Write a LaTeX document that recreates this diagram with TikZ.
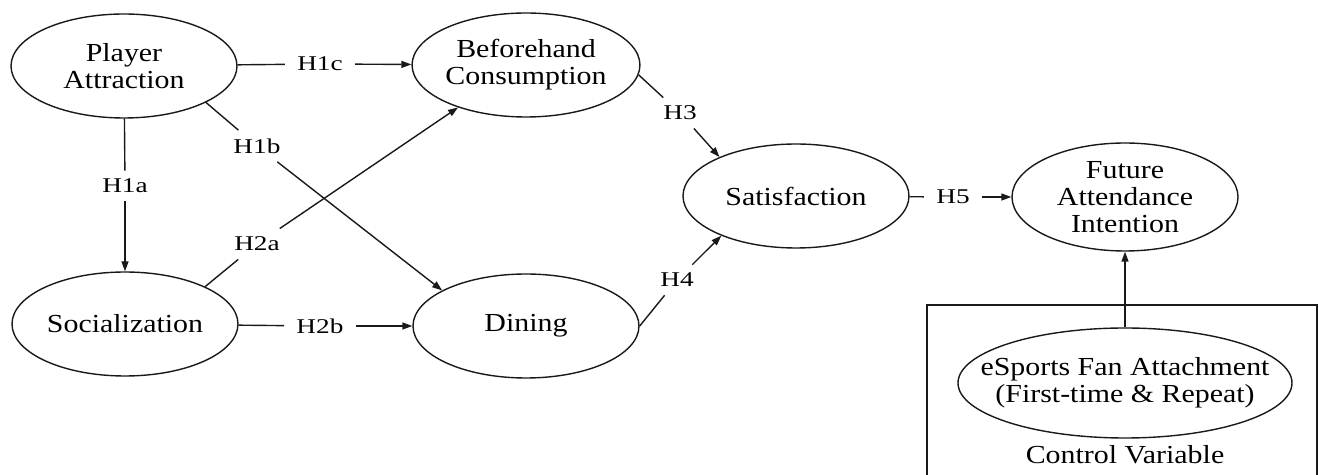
\documentclass[tikz,border=0pt]{standalone}
\usepackage{fontspec}
\setmainfont{Liberation Serif}[FakeStretch=1.15]
\newfontfamily\hypfont{Liberation Serif}[FakeStretch=1.3]
\usetikzlibrary{shapes.geometric, arrows.meta, positioning}
\tikzset{
  var/.style={draw=black!90, line width=0.7pt, ellipse, minimum width=113pt, minimum height=52pt, inner sep=0pt, align=center, font=\fontsize{13}{13.5}\selectfont},
  hyp/.style={inner xsep=6pt, inner ysep=4pt, font=\hypfont\fontsize{10.5}{12}\selectfont},
  link/.style={draw=black!90, line width=0.7pt},
  arr/.style={link, -{Triangle[length=5pt,width=3.5pt]}}
}

\begin{document}
\begin{tikzpicture}[x=0.5pt, y=-0.5pt]
\useasboundingbox (0,0) rectangle (1319,475);
% variables
\node[var] (pa) at (124,66) {Player\\Attraction};
\node[var] (bc) at (526,65) {Beforehand\\Consumption};
\node[var] (soc) at (125,324) {Socialization};
\node[var] (din) at (526,326) {Dining};
\node[var] (sat) at (796,196) {Satisfaction};
\node[var, minimum height=54pt, inner ysep=-2pt] (fai) at (1125,197) {Future\\Attendance\\Intention};
% control variable
\draw[link] (927,480) |- (1317,305) -- (1317,480);
\node[var, minimum width=167pt, minimum height=55pt, inner xsep=-20pt] (fan) at (1125,383) {eSports Fan Attachment\\(First-time \& Repeat)};
\node[font=\fontsize{13}{13.5}\selectfont] (ctrl) at (1125,455) {Control Variable};
% hypotheses
\node[hyp] (h1a) at (125,186) {H1a};
\node[hyp] (h1b) at (257,146) {H1b};
\node[hyp] (h1c) at (320,64) {H1c};
\node[hyp] (h2a) at (257,244) {H2a};
\node[hyp] (h2b) at (320,326) {H2b};
\node[hyp] (h3) at (680,113) {H3};
\node[hyp] (h4) at (677,280) {H4};
\node[hyp] (h5) at (953,197) {H5};
\draw[link] (pa) -- (h1a); \draw[arr] (h1a) -- (soc);
\draw[link] (pa.-24) -- (h1b); \draw[arr] (h1b) -- (din.157);
\draw[link] (pa) -- (h1c); \draw[arr] (h1c) -- (bc);
\draw[link] (soc.25) -- (h2a); \draw[arr] (h2a) -- (bc.212);
\draw[link] (soc) -- (h2b); \draw[arr] (h2b) -- (din);
\draw[link] (bc.-5) -- (h3); \draw[arr] (h3) -- (sat.153);
\draw[link] (din.east) -- (h4); \draw[arr] (h4) -- (sat.208);
\draw[link] (sat) -- (h5); \draw[arr] (h5) -- (fai);
\draw[arr] (fan) -- (fai);
\end{tikzpicture}
\end{document}
